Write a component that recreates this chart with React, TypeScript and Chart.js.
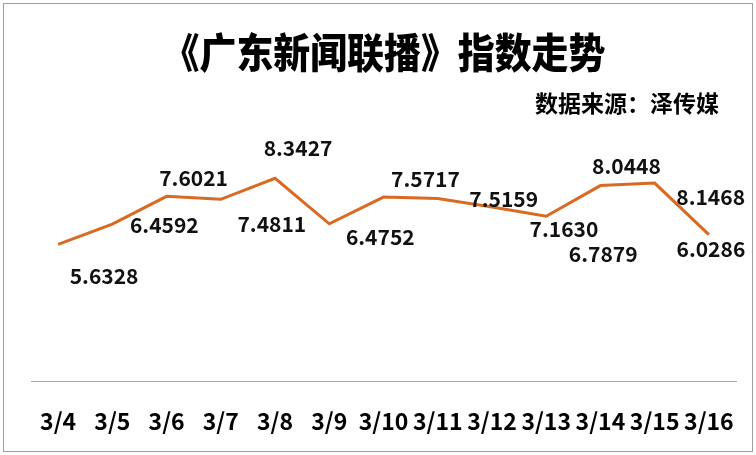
import React, { useEffect, useRef } from "react";
import { Chart, registerables } from "chart.js";

Chart.register(...registerables);

const categories = ["3/4", "3/5", "3/6", "3/7", "3/8", "3/9", "3/10", "3/11", "3/12", "3/13", "3/14", "3/15", "3/16"];
const indexValues = [5.6328, 6.4592, 7.6021, 7.4811, 8.3427, 6.4752, 7.5717, 7.5159, 7.163, 6.7879, 8.0448, 8.1468, 6.0286];
const valueLabels = ["5.6328", "6.4592", "7.6021", "7.4811", "8.3427", "6.4752", "7.5717", "7.5159", "7.1630", "6.7879", "8.0448", "8.1468", "6.0286"];
const titleText = "《广东新闻联播》指数走势";
const sourceText = "数据来源：泽传媒";

// label placement offsets relative to each point (styling only)
const labelOffsets: [number, number][] = [
  [46, 32], [52, 1], [27, -18], [51, 25], [23, -30], [51, 13], [42, -18],
  [66, 1], [72, 22], [57, 38], [26, -20], [56, 14], [2, 14],
];

const FONT = "'Noto Sans CJK SC', 'Noto Sans', sans-serif";

const framePlugin = {
  id: "frame",
  beforeDraw(chart: any) {
    const ctx = chart.ctx;
    ctx.save();
    ctx.fillStyle = "#ffffff";
    ctx.fillRect(0, 0, chart.width, chart.height);
    ctx.strokeStyle = "#a0a0a0";
    ctx.lineWidth = 1;
    ctx.strokeRect(3.5, 3.5, chart.width - 7, chart.height - 7);
    ctx.restore();
  },
  afterDraw(chart: any) {
    const ctx = chart.ctx;
    ctx.save();
    ctx.fillStyle = "#000000";
    ctx.textBaseline = "middle";
    // title, slightly condensed
    ctx.font = `900 41px ${FONT}`;
    const sx = 0.9;
    const w = ctx.measureText(titleText).width * sx;
    ctx.translate(384 - w / 2, 52);
    ctx.scale(sx, 1);
    ctx.textAlign = "left";
    ctx.fillText(titleText, 0, 0);
    ctx.restore();

    ctx.save();
    ctx.fillStyle = "#000000";
    ctx.textBaseline = "middle";
    ctx.textAlign = "right";
    ctx.font = `bold 23px ${FONT}`;
    ctx.fillText(sourceText, 719, 103);
    ctx.restore();
  },
};

const labelPlugin = {
  id: "pointLabels",
  afterDatasetsDraw(chart: any) {
    const ctx = chart.ctx;
    const meta = chart.getDatasetMeta(0);
    ctx.save();
    ctx.fillStyle = "#111111";
    ctx.font = `bold 21px ${FONT}`;
    ctx.textAlign = "center";
    ctx.textBaseline = "middle";
    meta.data.forEach((pt: any, i: number) => {
      const off = labelOffsets[i] || [0, -15];
      ctx.fillText(valueLabels[i], pt.x + off[0], pt.y + off[1]);
    });
    ctx.restore();
  },
};

export default function App() {
  const canvasRef = useRef<HTMLCanvasElement | null>(null);

  useEffect(() => {
    if (!canvasRef.current) return;
    const chart = new Chart(canvasRef.current, {
      type: "line",
      data: {
        labels: categories,
        datasets: [
          {
            data: indexValues,
            borderColor: "#d96a24",
            borderWidth: 3,
            pointRadius: 0,
            tension: 0,
            fill: false,
          },
        ],
      },
      options: {
        responsive: false,
        animation: false,
        layout: { padding: { left: 31, right: 20, top: 138, bottom: 20 } },
        plugins: {
          legend: { display: false },
          title: { display: false },
          tooltip: { enabled: false },
        },
        scales: {
          x: {
            offset: true,
            grid: { display: false, drawTicks: true, tickLength: 26 },
            border: { display: true, color: "#a6a6a6", width: 1 },
            ticks: {
              padding: 0,
              color: "#000000",
              maxRotation: 0,
              autoSkip: false,
              font: { family: FONT, size: 23, weight: "bold" },
            },
          },
          y: {
            display: false,
            min: 0,
            max: 10,
          },
        },
      },
      plugins: [framePlugin, labelPlugin],
    });
    return () => chart.destroy();
  }, []);

  return (
    <div style={{ position: "absolute", left: 0, top: 0, width: 756, height: 455 }}>
      <canvas ref={canvasRef} width={756} height={455} />
    </div>
  );
}
